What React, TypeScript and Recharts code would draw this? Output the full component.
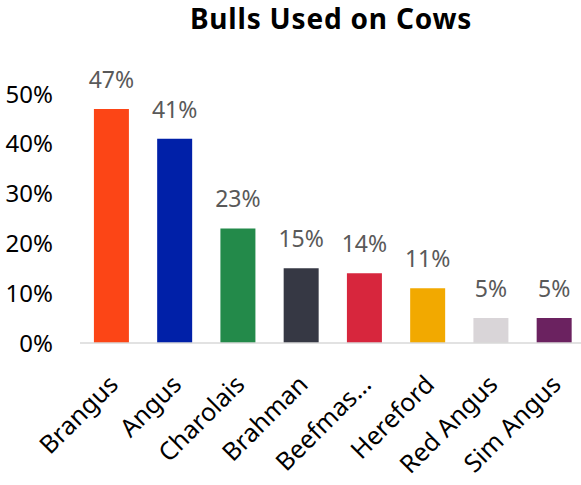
import React from 'react'
import { BarChart, Bar, XAxis, YAxis, Cell, LabelList } from 'recharts'

const breeds = ['Brangus', 'Angus', 'Charolais', 'Brahman', 'Beefmas…', 'Hereford', 'Red Angus', 'Sim Angus']
const shares = [47, 41, 23, 15, 14, 11, 5, 5]
const barColors = ['#FC4516', '#0020A8', '#238A4A', '#363844', '#D7263D', '#F2A900', '#D9D5D8', '#6B2260']
const yTicks = [0, 10, 20, 30, 40, 50]

const data = breeds.map((name, i) => ({ name, value: shares[i] }))

const FONT = '"Noto Sans", "Open Sans", sans-serif'

function BreedTick(props: any) {
  const { x, y, payload } = props
  const ax = x + 8
  const ay = y + 35
  return (
    <text
      x={ax}
      y={ay}
      textAnchor="end"
      transform={`rotate(-45, ${ax}, ${ay})`}
      fontSize={25}
      fontFamily={FONT}
      fill="#000"
    >
      {payload.value}
    </text>
  )
}

export default function App() {
  return (
    <div style={{ position: 'absolute', left: 0, top: 0, width: 581, height: 485, overflow: 'hidden', background: '#fff' }}>
      <div
        style={{
          position: 'absolute',
          left: 131,
          top: 0,
          width: 400,
          textAlign: 'center',
          fontFamily: FONT,
          fontWeight: 700,
          fontSize: 28,
          letterSpacing: 0.8,
          lineHeight: '36px',
          color: '#000',
          whiteSpace: 'nowrap',
        }}
      >
        Bulls Used on Cows
      </div>
      <BarChart
        width={590}
        height={485}
        data={data}
        margin={{ top: 94, right: 4, bottom: 0, left: 0 }}
        barCategoryGap="22%"
      >
        <XAxis
          dataKey="name"
          interval={0}
          tickLine={false}
          axisLine={{ stroke: '#d9d9d9', strokeWidth: 1.5 }}
          tick={<BreedTick />}
          height={142}
        />
        <YAxis
          domain={[0, 50]}
          ticks={yTicks}
          interval={0}
          width={80}
          axisLine={false}
          tickLine={false}
          tickSize={0}
          tickMargin={27}
          tickFormatter={(v: number) => `${v}%`}
          tick={{ fontSize: 24, fontFamily: FONT, fill: '#000' }}
        />
        <Bar dataKey="value" isAnimationActive={false}>
          {data.map((d, i) => (
            <Cell key={d.name} fill={barColors[i]} />
          ))}
          <LabelList
            dataKey="value"
            position="top"
            offset={21}
            formatter={(v: any) => `${v}%`}
            style={{ fontSize: 23, fontFamily: FONT, fill: '#595959' }}
          />
        </Bar>
      </BarChart>
    </div>
  )
}
